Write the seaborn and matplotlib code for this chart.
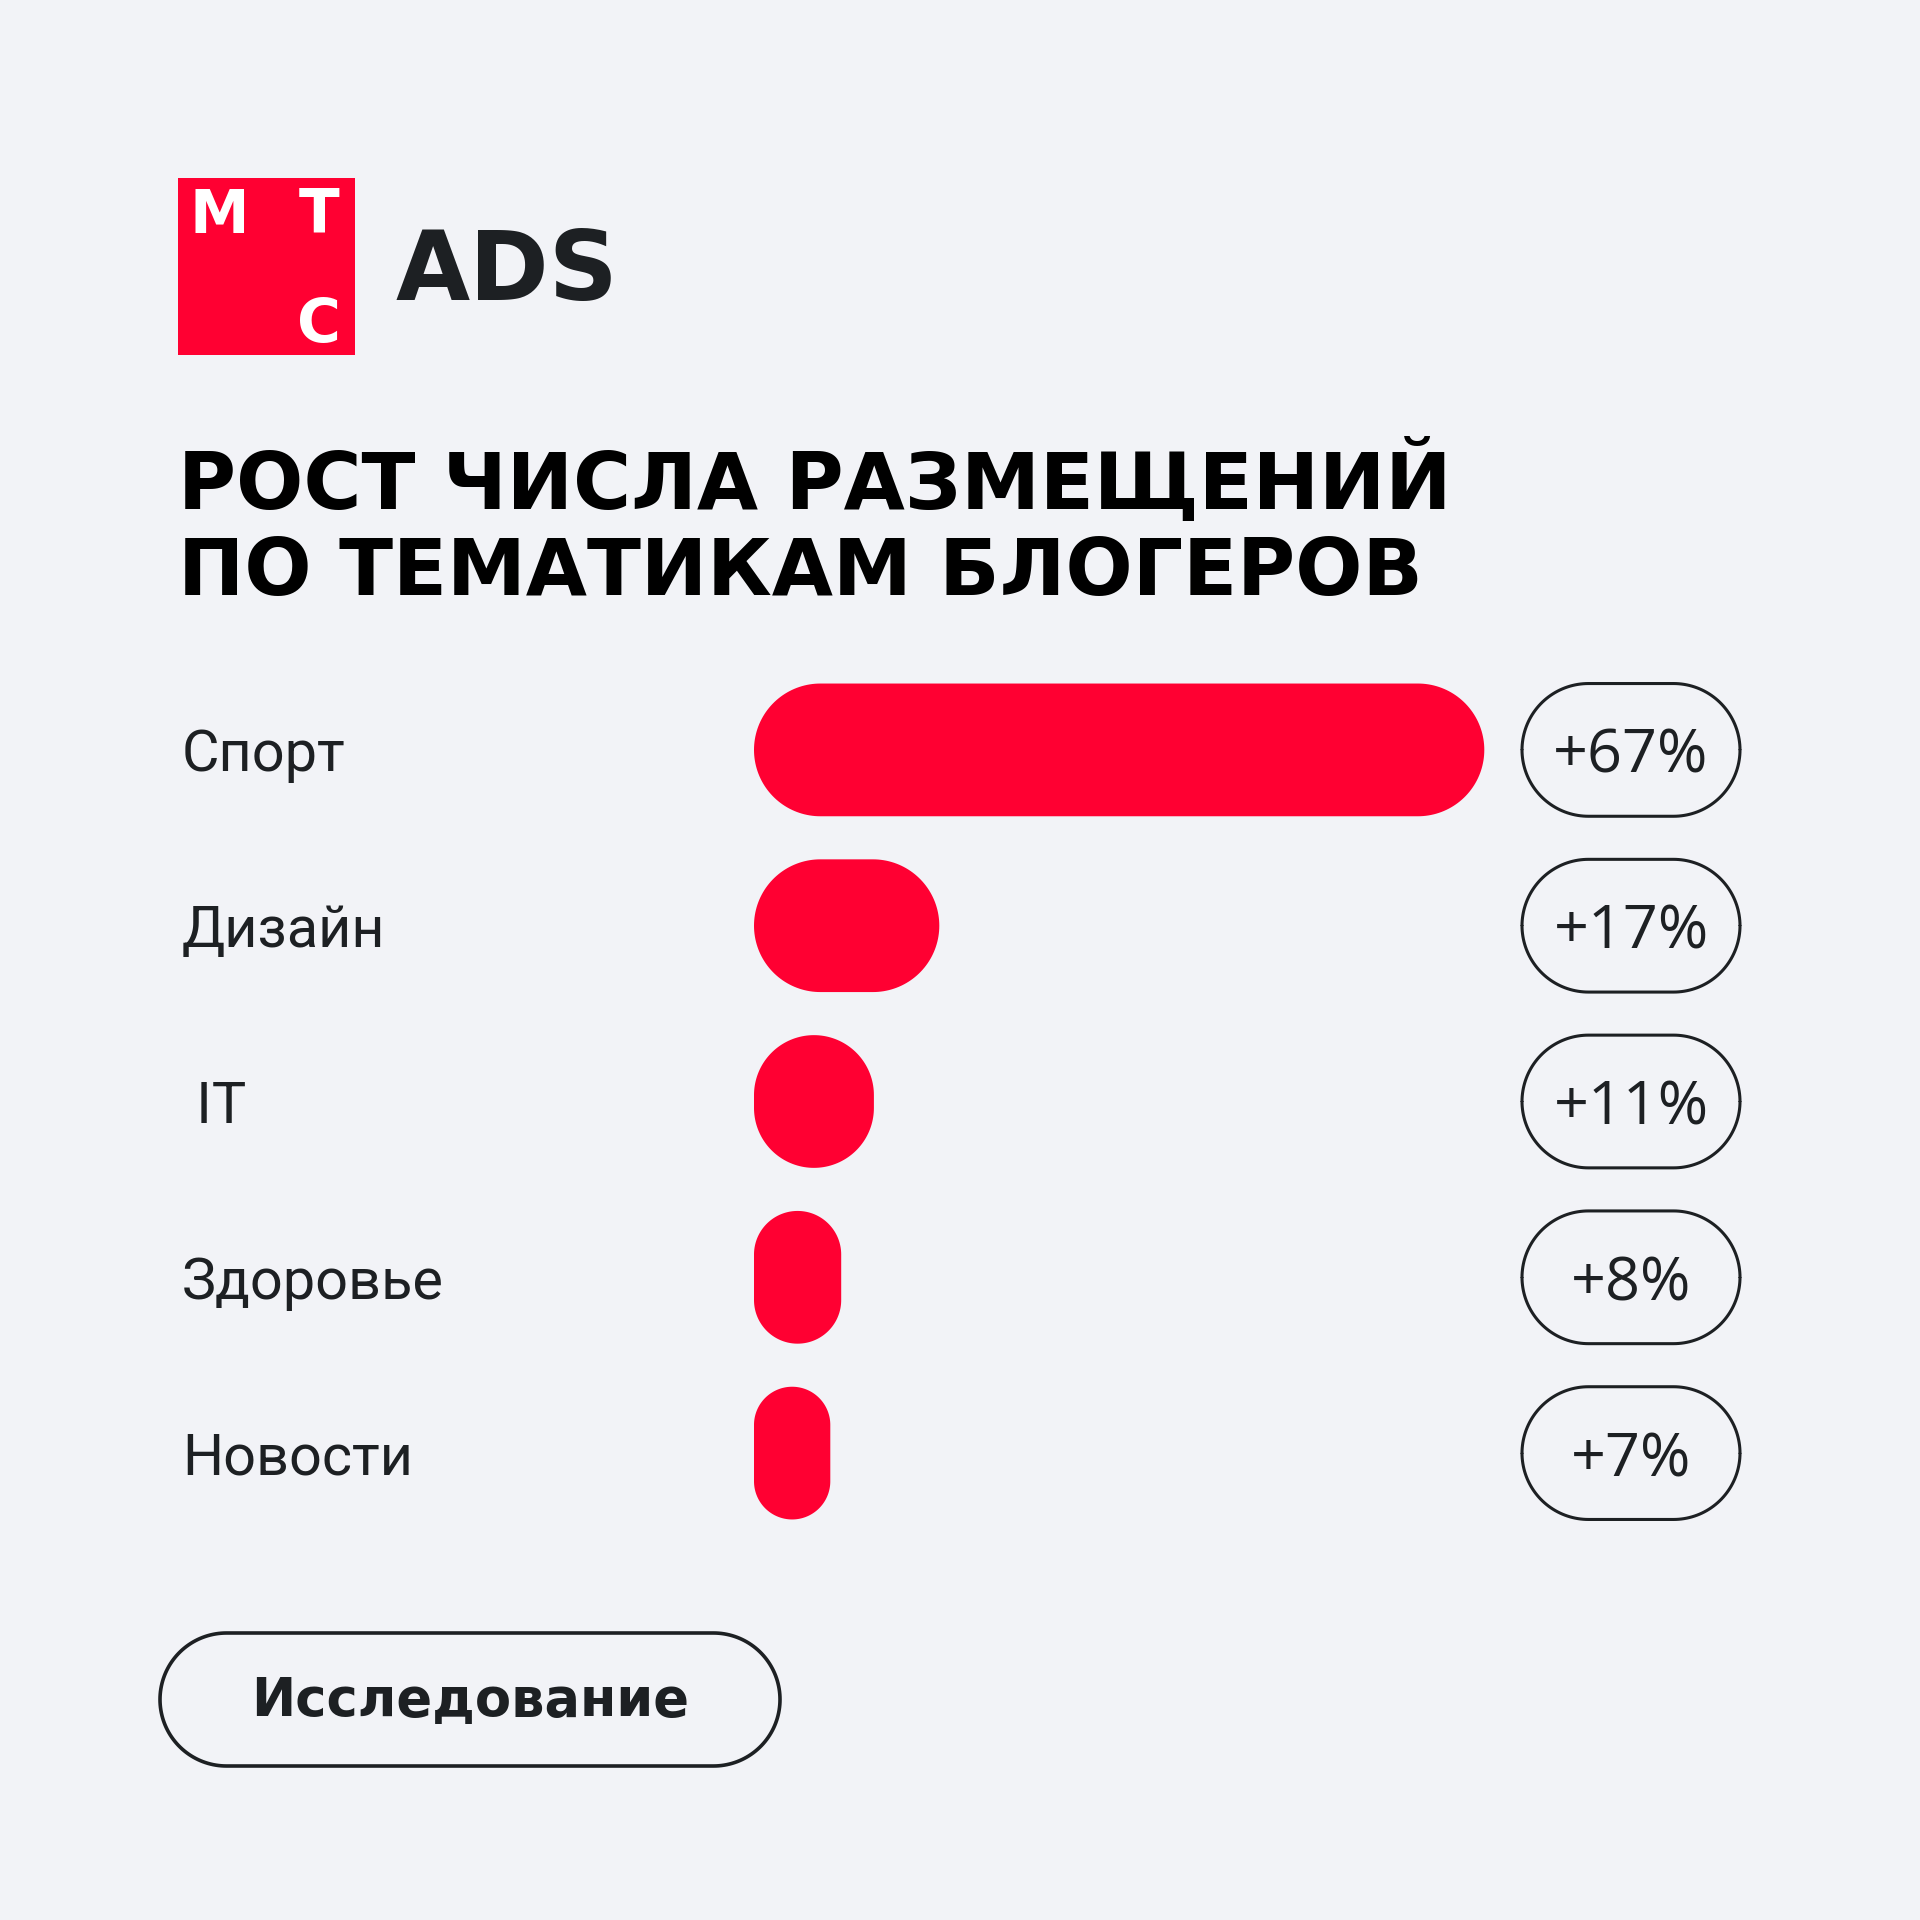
import numpy as np
import pandas as pd
import matplotlib.pyplot as plt
import seaborn as sns
from matplotlib.patches import Polygon, Rectangle

# данные
topics = ['Спорт', 'Дизайн', ' IT', 'Здоровье', 'Новости']
growth = [67, 17, 11, 8, 7]
growth_labels = ['+67%', '+17%', '+11%', '+8%', '+7%']

RED = '#FF0032'
INK = '#1D2023'
BG = '#F2F3F7'

sns.set_style('white')
plt.rcParams['font.family'] = ['DejaVu Sans']

W = 1920
fig = plt.figure(figsize=(19.2, 19.2), dpi=100, facecolor=BG)


def fx(px):
    return px / W


def fy(py):
    return 1 - py / W


def rounded(x, y, w, h, rx, ry, n=40, **kw):
    # прямоугольник со скруглёнными углами (по эллипсу rx, ry)
    pts = []
    corners = [(x + w - rx, y + h - ry, 0), (x + rx, y + h - ry, 90),
               (x + rx, y + ry, 180), (x + w - rx, y + ry, 270)]
    for cx, cy, a0 in corners:
        t = np.radians(np.linspace(a0, a0 + 90, n))
        pts += list(zip(cx + rx * np.cos(t), cy + ry * np.sin(t)))
    return Polygon(pts, closed=True, **kw)


#1. столбцы
ax = fig.add_axes([fx(754), fy(1541), fx(1760) - fx(754), fy(662) - fy(1541)])
ax.set_facecolor(BG)
df = pd.DataFrame({'topic': topics, 'growth': growth})
sns.barplot(data=df, x='growth', y='topic', orient='h', color=RED,
            saturation=1, width=0.755, ax=ax)
ax.set_xlim(0, (1760 - 754) / 10.9)
ax.set_ylim(len(topics) - 0.5, -0.5)
for s in ax.spines.values():
    s.set_visible(False)
ax.xaxis.set_visible(False)
ax.set_ylabel('')

fig.canvas.draw()
p0 = ax.transData.transform((0, 0))
p1 = ax.transData.transform((1, 1))
px_x = abs(p1[0] - p0[0])
px_y = abs(p1[1] - p0[1])

for bar in list(ax.patches):
    x, y, w, h = bar.get_x(), bar.get_y(), bar.get_width(), bar.get_height()
    r_px = min(w * px_x, abs(h) * px_y) / 2
    bar.remove()
    ax.add_patch(rounded(x, y, w, h, r_px / px_x, np.sign(h) * r_px / px_y,
                         fc=RED, ec='none'))

# подписи категорий
ax.set_yticks(range(len(topics)), topics)
ax.tick_params(axis='y', length=0, pad=(754 - 182) * 0.72, labelsize=41.5, labelcolor=INK)
for lab in ax.get_yticklabels():
    lab.set_ha('left')
    lab.set_fontfamily(['Roboto', 'DejaVu Sans'])

# плашки с процентами
pill_cx = (1631 - 754) / px_x
pill_w = 218 / px_x
pill_h = 0.755
for i, lab in enumerate(growth_labels):
    ax.add_patch(rounded(pill_cx - pill_w / 2, i - pill_h / 2, pill_w, pill_h,
                         66.5 / px_x, 66.5 / px_y, fc='none', ec=INK, lw=2.2,
                         clip_on=False))
    ax.text(pill_cx, i, lab, ha='center', va='center_baseline', fontsize=44,
            family=['Open Sans', 'DejaVu Sans'], color=INK, clip_on=False)

#2. логотип
fig.add_artist(Rectangle((fx(178), fy(355)), 177 / W, 177 / W,
                         transform=fig.transFigure, fc=RED, ec='none'))
fig.text(fx(219), fy(233), 'М', ha='center', va='baseline', color='white',
         fontsize=43, fontweight='bold')
fig.text(fx(319), fy(233), 'Т', ha='center', va='baseline', color='white',
         fontsize=43, fontweight='bold')
fig.text(fx(319), fy(342), 'С', ha='center', va='baseline', color='white',
         fontsize=43, fontweight='bold')
fig.text(fx(396), fy(300), 'ADS', ha='left', va='baseline', color=INK,
         fontsize=69, fontweight='bold')

#3. заголовок
fig.text(fx(178), fy(509), 'РОСТ ЧИСЛА РАЗМЕЩЕНИЙ', ha='left', va='baseline',
         color='black', fontsize=57, fontweight='bold')
fig.text(fx(178), fy(595), 'ПО ТЕМАТИКАМ БЛОГЕРОВ', ha='left', va='baseline',
         color='black', fontsize=57, fontweight='bold')

#4. кнопка
fig.add_artist(rounded(160 / W, 1 - 1766 / W, 620 / W, 133 / W, 66.5 / W, 66.5 / W,
                       transform=fig.transFigure, fc='none', ec=INK, lw=2.6))
fig.text(fx(470), fy(1716), 'Исследование', ha='center', va='baseline',
         color=INK, fontsize=38, fontweight='bold')

fig.savefig('out.png', dpi=100, facecolor=BG)
